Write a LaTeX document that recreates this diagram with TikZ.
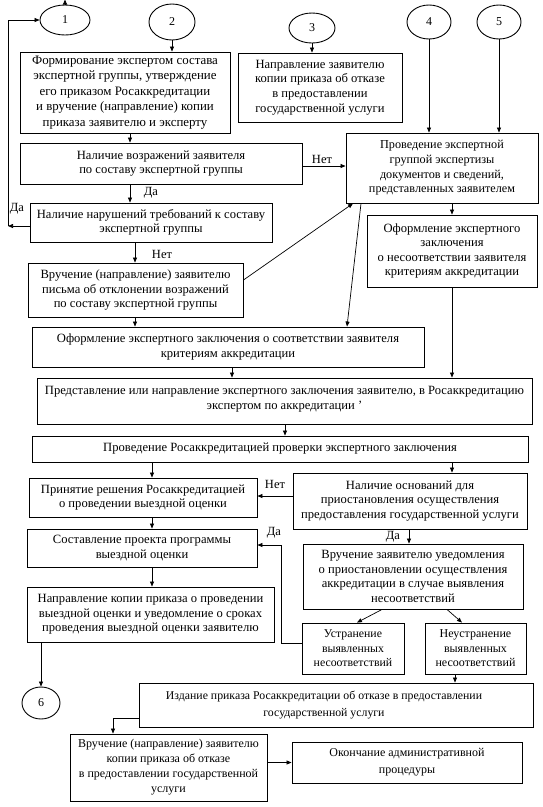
\documentclass[tikz,border=0pt]{standalone}
\usepackage{fontspec}
\setmainfont{Liberation Serif}
\usetikzlibrary{arrows.meta,shapes.geometric,calc}
\newcommand{\fsz}[2]{\fontsize{#1}{#2}\selectfont}
\begin{document}
\begin{tikzpicture}[x=1pt,y=-1pt,
  box/.style={draw, line width=0.9pt, align=center, inner sep=1pt,
    font=\fsz{12.6}{14.6}},
  ell/.style={draw, ellipse, line width=0.9pt, inner sep=0pt,
    font=\fsz{12}{13}},
  arr/.style={-{Triangle[length=5pt,width=4pt]}, line width=0.7pt},
  ln/.style={line width=0.7pt},
  lbl/.style={inner sep=0pt, font=\fsz{12.5}{13}}]
\useasboundingbox (0,0) rectangle (542,807);
\fill[white] (0,0) rectangle (542,807);

% ellipses
\node[ell, minimum width=50, minimum height=30] (E1) at (65,20) {1};
\node[ell, minimum width=46, minimum height=36] (E2) at (172,22) {2};
\node[ell, minimum width=46, minimum height=30] (E3) at (312,28) {3};
\node[ell, minimum width=44, minimum height=34] (E4) at (429,22) {4};
\node[ell, minimum width=44, minimum height=34] (E5) at (499,22) {5};
\node[ell, minimum width=38, minimum height=32] (E6) at (41,703) {6};

% boxes
\node[box, font=\fsz{12.9}{15.6}, minimum width=210, minimum height=81] (B1) at (125,92.5)
  {Формирование экспертом состава\\экспертной группы, утверждение\\его приказом Росаккредитации\\и вручение (направление) копии\\приказа заявителю и эксперту};
\node[box, minimum width=164, minimum height=69] (B3) at (320,87.5)
  {Направление заявителю\\копии приказа об отказе\\в предоставлении\\государственной услуги};
\node[box, minimum width=282, minimum height=41] (B2) at (161,163.5)
  {Наличие возражений заявителя\\по составу экспертной группы};
\node[box, font=\fsz{12.2}{14.7}, minimum width=192, minimum height=70] (B4) at (442,168)
  {Проведение экспертной\\группой экспертизы\\документов и сведений,\\представленных заявителем};
\node[box, minimum width=242, minimum height=39] (B6) at (151,222.5)
  {Наличие нарушений требований к составу\\экспертной группы};
\node[box, minimum width=170, minimum height=72] (B5) at (452,251)
  {Оформление экспертного\\заключения\\о несоответствии заявителя\\критериям аккредитации};
\node[box, minimum width=215, minimum height=54] (B7) at (135.5,290)
  {Вручение (направление) заявителю\\письма об отклонении возражений\\по составу экспертной группы};
\node[box, minimum width=392, minimum height=40] (B8) at (228,347)
  {Оформление экспертного заключения о соответствии заявителя\\критериям аккредитации};
\node[box, minimum width=495, minimum height=46, text depth=6pt] (B9) at (284.5,401)
  {Представление или направление экспертного заключения заявителю, в Росаккредитацию\\экспертом по аккредитации '};
\node[box, font=\fsz{12.6}{14}, minimum width=496, minimum height=26] (B10) at (280,449)
  {Проведение Росаккредитацией проверки экспертного заключения};
\node[box, minimum width=228, minimum height=39] (B11) at (143,497.5)
  {Принятие решения Росаккредитацией\\о проведении выездной оценки};
\node[box, minimum width=234, minimum height=56] (B12) at (410,501)
  {Наличие оснований для\\приостановления осуществления\\предоставления государственной услуги};
\node[box, minimum width=230, minimum height=38] (B13) at (142,548)
  {Составление проекта программы\\выездной оценки};
\node[box, minimum width=220, minimum height=65] (B14) at (413,576.5)
  {Вручение заявителю уведомления\\о приостановлении осуществления\\аккредитации в случае выявления\\несоответствий};
\node[box, minimum width=247, minimum height=55] (B15) at (150.5,614.5)
  {Направление копии приказа о проведении\\выездной оценки и уведомление о сроках\\проведения выездной оценки заявителю};
\node[box, font=\fsz{11.8}{14.5}, minimum width=102, minimum height=51] (B16) at (353,648.5)
  {Устранение\\выявленных\\несоответствий};
\node[box, font=\fsz{12}{14.5}, minimum width=101, minimum height=51] (B17) at (475.5,648.5)
  {Неустранение\\выявленных\\несоответствий};
\node[box, minimum width=394, minimum height=44] (B18) at (336,705) {};
\node[inner sep=0pt, align=center, font=\fsz{11.8}{17}] (B18t) at (324,705)
  {Издание приказа Росаккредитации об отказе в предоставлении\\государственной услуги};
\node[box, font=\fsz{12}{15}, minimum width=197, minimum height=67] (B19) at (168.5,767.5)
  {Вручение (направление) заявителю\\копии приказа об отказе\\в предоставлении государственной\\услуги};
\node[box, font=\fsz{12}{17}, minimum width=230, minimum height=41] (B20) at (407,762.5)
  {Окончание административной\\процедуры};

% helper coordinates
\coordinate (L1) at (8,226);
\coordinate (L2) at (281,643);
\coordinate (L3) at (281,545);
\coordinate (L4) at (113,718);

% connectors
\draw[arr] (E1.north) -- ++(0,-5);
\draw[arr] (E2.south) -- (E2.south |- B1.north);
\draw[arr] (E3.south) -- (E3.south |- B3.north);
\draw[arr] (E4.south) -- (E4.south |- B4.north);
\draw[arr] (E5.south) -- (E5.south |- B4.north);
\draw[arr] (B1.south -| 130,0) -- (B2.north -| 130,0);
\draw[arr] (B2.east |- 0,166) -- (B4.west |- 0,166);
\draw[arr] (B2.south -| 130,0) -- (B6.north -| 130,0);
\draw[arr] (B6.west |- L1) -- (L1);
\draw[arr] (L1) |- (E1.west);
\draw[arr] (B6.south -| 135,0) -- (B7.north -| 135,0);
\draw[arr] (B7.east |- 0,280) -- (B4.south -| 353,0);
\draw[arr] (B4.south -| 361,0) -- (B8.north -| 347,0);
\draw[arr] (B4.south -| B5.north) -- (B5.north);
\draw[arr] (B7.south -| 135,0) -- (B8.north -| 135,0);
\draw[arr] (B5.south) -- (B9.north -| B5.south);
\draw[arr] (B8.south -| 232,0) -- (B9.north -| 232,0);
\draw[arr] (B9.south -| 285,0) -- (B10.north -| 285,0);
\draw[arr] (B10.south -| 152,0) -- (B11.north -| 152,0);
\draw[arr] (B10.south -| 452,0) -- (B12.north -| 452,0);
\draw[arr] (B12.west |- 0,496) -- (B11.east |- 0,496);
\draw[arr] (B11.south -| 152,0) -- (B13.north -| 152,0);
\draw[arr] (B12.south -| 409,0) -- (B14.north -| 409,0);
\draw[arr] (B13.south -| 152,0) -- (B15.north -| 152,0);
\draw[arr] (B14.south -| 382,0) -- (B16.north -| 357,0);
\draw[arr] (B14.south -| 447,0) -- (B17.north -| 462,0);
\draw[ln] (B16.west |- L2) -- (L2) -- (L3);
\draw[arr] (L3) -- (B13.east |- L3);
\draw[arr] (B15.south -| E6.north) -- (E6.north);
\draw[arr] (B17.south -| 455,0) -- (B18.north -| 455,0);
\draw[arr] (B18.west |- L4) -- (L4) -- (B19.north -| L4);
\draw[arr] (B19.east |- B20.west) -- (B20.west);

% labels
\node[lbl] (t1) at (322,159) {Нет};
\node[lbl] (t2) at (151,193) {Да};
\node[lbl] (t3) at (17,209) {Да};
\node[lbl] (t4) at (162,254) {Нет};
\node[lbl] (t5) at (275,484) {Нет};
\node[lbl] (t6) at (274,533) {Да};
\node[lbl] (t7) at (393,537) {Да};
\end{tikzpicture}
\end{document}
